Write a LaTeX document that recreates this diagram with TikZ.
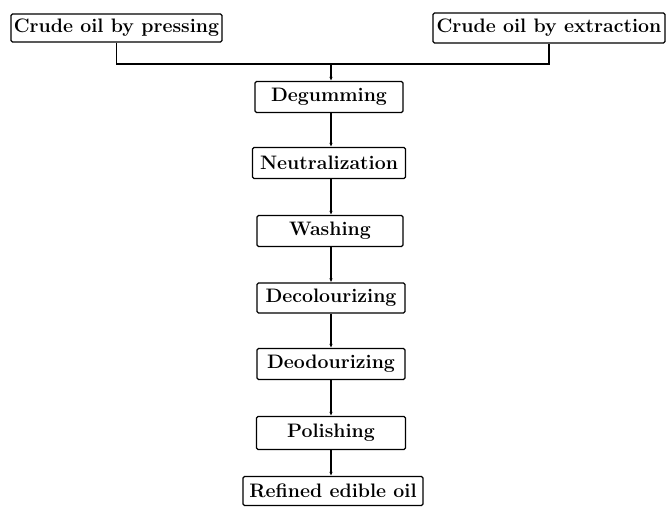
\documentclass[tikz,border=0pt]{standalone}
\usetikzlibrary{arrows.meta}
\begin{document}
\begin{tikzpicture}[x=1pt,y=-1pt,
  box/.style={draw, line width=1.3pt, rounded corners=1.5pt, inner sep=0pt,
    minimum height=31pt, font=\fontsize{19.5}{21}\selectfont\bfseries},
  link/.style={line width=1.3pt},
  flow/.style={line width=1.3pt, -{Latex[length=4pt,width=3.5pt]}}]
\useasboundingbox (0,0) rectangle (667,511);
\node[box, minimum width=211pt, minimum height=28pt] (press) at (116.5,28) {Crude oil by pressing};
\node[box, minimum width=232pt, minimum height=30pt] (extr) at (549,28) {Crude oil by extraction};
\node[box, minimum width=148pt] (degum) at (329,97) {Degumming};
\node[box, minimum width=153pt] (neut) at (329,163) {Neutralization};
\node[box, minimum width=146pt] (wash) at (330,231) {Washing};
\node[box, minimum width=148pt, minimum height=30pt] (decol) at (331,298) {Decolourizing};
\node[box, minimum width=148pt] (deodo) at (331,364) {Deodourizing};
\node[box, minimum width=149pt, minimum height=33pt] (polish) at (331,433) {Polishing};
\node[box, minimum width=180pt, minimum height=29pt] (refined) at (333,491) {Refined edible oil};
\coordinate (j) at (331,64);
\draw[link] (press.south) |- (j) -| (extr.south);
\draw[flow] (j) -- (j |- degum.north);
\draw[flow] (j |- degum.south) -- (j |- neut.north);
\draw[flow] (j |- neut.south) -- (j |- wash.north);
\draw[flow] (j |- wash.south) -- (j |- decol.north);
\draw[flow] (j |- decol.south) -- (j |- deodo.north);
\draw[flow] (j |- deodo.south) -- (j |- polish.north);
\draw[flow] (j |- polish.south) -- (j |- refined.north);
\end{tikzpicture}
\end{document}
